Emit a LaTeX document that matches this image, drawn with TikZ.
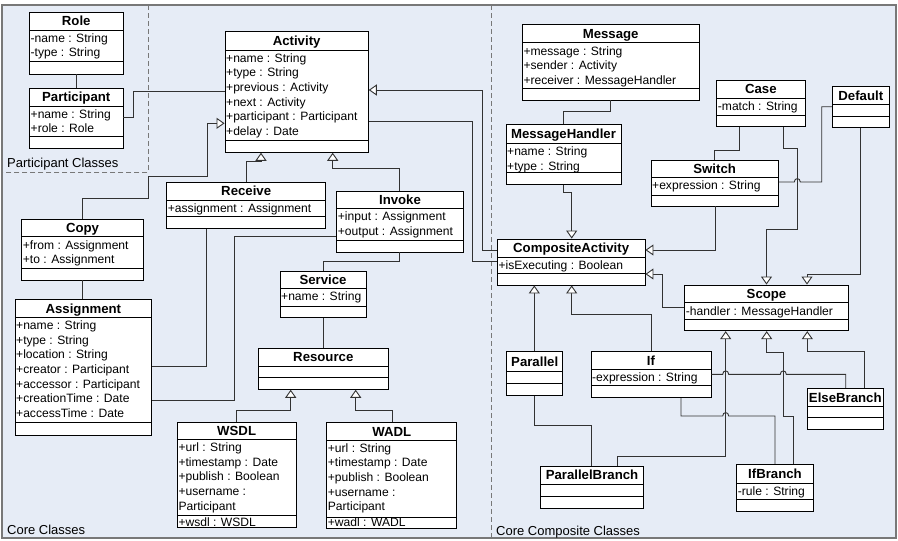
\documentclass[tikz,border=0pt]{standalone}
\usepackage{fontspec}
\setmainfont{Liberation Sans}
\usetikzlibrary{arrows.meta,fit}

\definecolor{panel}{RGB}{230,236,246}
\definecolor{framegray}{RGB}{120,120,120}
\definecolor{linegray}{RGB}{50,50,50}

\tikzset{
  classbox/.style={draw=black, fill=white, line width=0.9pt, inner sep=0pt},
  divider/.style={draw=black, line width=0.9pt},
  titletext/.style={font=\fontsize{13.2}{15}\selectfont\bfseries, inner sep=0pt, anchor=base},
  attrtext/.style={font=\fontsize{12.1}{14}\selectfont, inner sep=0pt, anchor=base west},
  grouplabel/.style={font=\fontsize{13}{15}\selectfont, inner sep=0pt, anchor=base west},
  conn/.style={draw=linegray, line width=0.9pt},
  gen/.style={conn, -{Triangle[fill=white, length=8pt, width=11pt]}},
  groupline/.style={draw=framegray, line width=0.9pt, dash pattern=on 5pt off 3pt},
}

% class box: name, x1, y1, x2, y2, first divider, second divider, title
\newcommand{\umlclass}[8]{%
  \node[classbox, fit={(#2,#3) (#4,#5)}] (#1) {};
  \draw[divider] (#2,#6) -- (#4,#6);
  \draw[divider] (#2,#7) -- (#4,#7);
  \node[titletext] (#1-title) at ({(#2+#4)/2},{(#3+#6)/2+4.7}) {#8};
}
% attribute rows: x1, divider, list
\newcommand{\umlattrs}[3]{%
  \foreach \t [count=\i from 0] in {#3}{
    \node[attrtext] at (#1+1,{#2+12.3+14.6*\i}) {\t};
  }
}

\begin{document}
\begin{tikzpicture}[x=1pt,y=-1pt]
\useasboundingbox (0,0) rectangle (898,541);
\fill[panel] (2,5) rectangle (896,538);
\draw[groupline] (148.3,5) -- (148.3,172) -- (2,172);
\draw[groupline] (491.7,5) -- (491.7,538);
\draw[framegray, line width=1.2pt] (2,5) rectangle (896,538);

\node[grouplabel] (lblpart) at (7,167.5) {Participant Classes};
\node[grouplabel] (lblcore) at (7,534.5) {Core Classes};
\node[grouplabel] (lblcomp) at (496,535.2) {Core Composite Classes};

% participant classes
\umlclass{role}{29.5}{12}{123}{74}{30}{61.3}{Role}
\umlattrs{29.5}{30}{-name : String,-type : String}
\umlclass{part}{29.5}{88}{123}{148.7}{106}{136.7}{Participant}
\umlattrs{29.5}{106}{+name : String,+role : Role}

% core classes
\umlclass{act}{225}{31.7}{368.3}{152.3}{50}{140.7}{Activity}
\umlattrs{225}{50}{+name : String,+type : String,+previous : Activity,+next : Activity,+participant : Participant,+delay : Date}
\umlclass{recv}{166.7}{182.3}{325.7}{228.3}{200}{216.7}{Receive}
\umlattrs{166.7}{200}{+assignment : Assignment}
\umlclass{inv}{336.7}{191}{463.3}{252}{208.3}{240.7}{Invoke}
\umlattrs{336.7}{208.3}{+input : Assignment,+output : Assignment}
\umlclass{copy}{21.7}{219}{143.3}{280}{236.7}{268.3}{Copy}
\umlattrs{21.7}{236.7}{+from : Assignment,+to : Assignment}
\umlclass{asg}{15}{299.3}{151.7}{435}{317.3}{422.3}{Assignment}
\umlattrs{15}{317.3}{+name : String,+type : String,+location : String,+creator : Participant,+accessor : Participant,+creationTime : Date,+accessTime : Date}
\umlclass{svc}{280}{271}{366}{317.3}{288.3}{306}{Service}
\umlattrs{280}{288.3}{+name : String}
\umlclass{res}{258.3}{348.3}{388.3}{389.3}{366}{377.7}{Resource}
\umlclass{wsdl}{177.3}{422.3}{296}{527.7}{439.3}{515}{WSDL}
\umlattrs{177.3}{439.3}{+url : String,+timestamp : Date,+publish : Boolean,+username :,Participant}
\node[attrtext] (wsdl-op) at (178.3,526) {+wsdl : WSDL};
\umlclass{wadl}{326.7}{422.7}{456.7}{528.3}{440}{517.3}{WADL}
\umlattrs{326.7}{440}{+url : String,+timestamp : Date,+publish : Boolean,+username :,Participant}
\node[attrtext] (wadl-op) at (327.7,526.5) {+wadl : WADL};

% composite classes
\umlclass{msg}{522.3}{24.3}{699}{100}{42.7}{88.3}{Message}
\umlattrs{522.3}{42.7}{+message : String,+sender : Activity,+receiver : MessageHandler}
\umlclass{mh}{506}{124.3}{621}{184.7}{143.3}{172.7}{MessageHandler}
\umlattrs{506}{143.3}{+name : String,+type : String}
\umlclass{ca}{497.3}{239}{645}{285}{257.3}{273.3}{CompositeActivity}
\umlattrs{497.3}{257.3}{+isExecuting : Boolean}
\umlclass{case}{716.7}{80}{805}{126.7}{98.3}{115}{Case}
\umlattrs{716.7}{98.3}{-match : String}
\umlclass{def}{832.3}{86.7}{889.3}{127.7}{104.3}{116}{Default}
\umlclass{sw}{651}{160.7}{778.3}{206}{177.3}{195}{Switch}
\umlattrs{651}{177.3}{+expression : String}
\umlclass{scope}{684.7}{285}{848.3}{330.7}{302.7}{319}{Scope}
\umlattrs{684.7}{302.7}{-handler : MessageHandler}
\umlclass{par}{506.7}{351.7}{562.7}{395.7}{371.7}{383.3}{Parallel}
\umlclass{if}{591}{351.7}{711}{397.7}{369.3}{385.7}{If}
\umlattrs{591}{369.3}{-expression : String}
\umlclass{eb}{807.3}{388.3}{883.3}{429.3}{406.7}{417.7}{ElseBranch}
\umlclass{pb}{540.7}{466}{643.3}{508.3}{484.3}{496.7}{ParallelBranch}
\umlclass{ib}{736.7}{464.3}{813.3}{511}{483.3}{499.3}{IfBranch}
\umlattrs{736.7}{483.3}{-rule : String}

% connectors: core classes
\draw[conn] (role.south -| 76.7,0) -- (part.north -| 76.7,0);
\draw[conn] (part.east |- 0,117.3) -| (133.7,91.3) -- (act.west |- 0,91.3);
\draw[gen] (copy.north -| 82.7,0) |- (148.3,198) |- (207.3,176.7) |- (act.west |- 0,123.3);
\draw[gen] (recv.north -| 246.7,0) |- (261,161.7) -- (act.south -| 261,0);
\draw[gen] (inv.north -| 399.3,0) |- (332.7,168.3) -- (act.south -| 332.7,0);
\draw[gen] (ca.west |- 0,250.5) -| (482.7,90) -- (act.east |- 0,90);
\draw[conn] (act.east |- 0,121.7) -| (472.5,261.7) -- (ca.west |- 0,261.7);
\draw[conn] (recv.south -| 206.7,0) |- (asg.east |- 0,366.5);
\draw[conn] (inv.west |- 0,236.7) -| (234,400.7) -- (asg.east |- 0,400.7);
\draw[conn] (inv.south -| 399.3,0) |- (323.3,261.7) -- (svc.north -| 323.3,0);
\draw[conn] (svc.south -| 323.3,0) -- (res.north -| 323.3,0);
\draw[conn] (copy.south -| 82.7,0) -- (asg.north -| 82.7,0);
\draw[gen] (wsdl.north -| 236.7,0) |- (290.7,410) -- (res.south -| 290.7,0);
\draw[gen] (wadl.north -| 392.3,0) |- (355.7,410) -- (res.south -| 355.7,0);

% connectors: composite classes
\draw[conn] (msg.south -| 610,0) |- (563.3,111) -- (mh.north -| 563.3,0);
\draw[gen] (mh.south -| 563.3,0) |- (571.7,192.7) -- (ca.north -| 571.7,0);
\draw[gen] (sw.south -| 715,0) |- (ca.east |- 0,250);
\draw[gen] (scope.west |- 0,307.7) -| (662.3,274) -- (ca.east |- 0,274);
\draw[gen] (par.north -| 534.3,0) -- (ca.south -| 534.3,0);
\draw[gen] (if.north -| 651.7,0) |- (571.7,314) -- (ca.south -| 571.7,0);
\draw[conn] (case.south -| 739,0) |- (714.3,150.7) -- (sw.north -| 714.3,0);
\draw[gen] (case.south -| 783.3,0) |- (797.3,148.3) |- (766.5,229) -- (scope.north -| 766.5,0);
\draw[gen] (def.south -| 860.3,0) |- (807,274) -- (scope.north -| 807,0);
\draw[conn] (sw.east |- 0,182) -- (794.3,182) .. controls (794.3,177.5) and (800.3,177.5) .. (800.3,182)
  -| (821.7,106.7) -- (def.west |- 0,106.7);
\draw[conn] (par.south -| 534.3,0) |- (591.7,425.3) -- (pb.north -| 591.7,0);
\draw[gen] (pb.north -| 617.3,0) |- (725.7,456) -- (scope.south -| 725.7,0);
\draw[conn] (if.east |- 0,374.3) -- (722.7,374.3) .. controls (722.7,369.8) and (728.7,369.8) .. (728.7,374.3)
  -- (780.3,374.3) .. controls (780.3,369.8) and (786.3,369.8) .. (786.3,374.3)
  -| (eb.north -| 845.7,0);
\draw[conn] (if.south -| 681,0) |- (722.7,416) .. controls (722.7,411.5) and (728.7,411.5) .. (728.7,416)
  -| (ib.north -| 775,0);
\draw[gen] (ib.north -| 793.3,0) |- (783.3,416.7) |- (766.7,352.3) -- (scope.south -| 766.7,0);
\draw[gen] (eb.north -| 864.3,0) |- (807.3,351.7) -- (scope.south -| 807.3,0);
\end{tikzpicture}
\end{document}
